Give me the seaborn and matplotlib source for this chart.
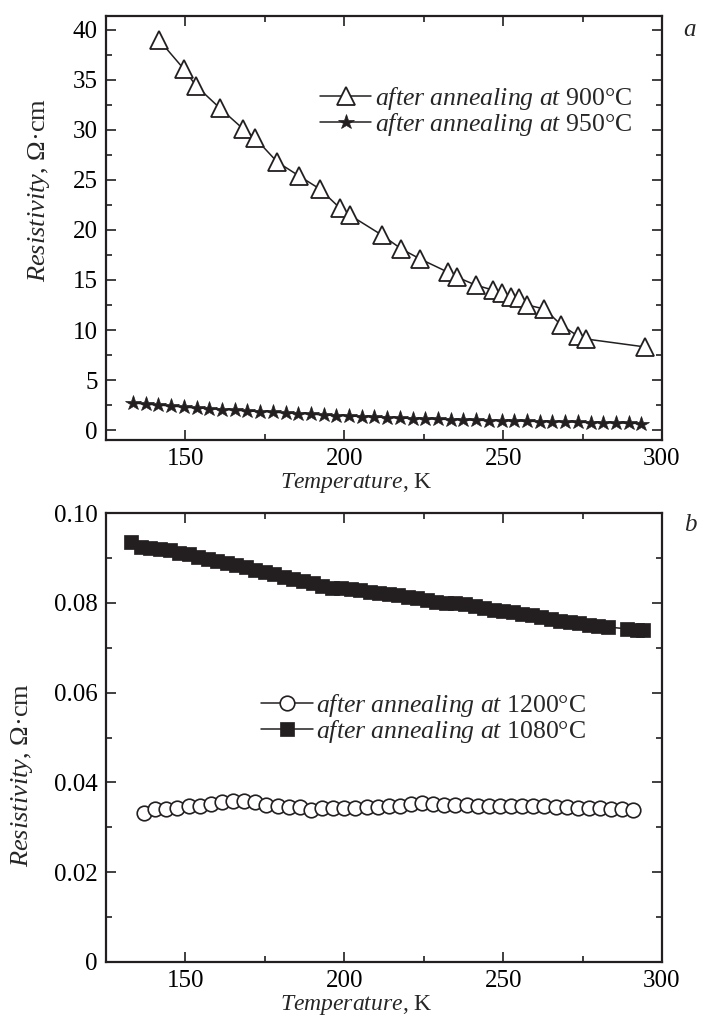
import matplotlib
matplotlib.use("Agg")
import matplotlib.pyplot as plt
from matplotlib.ticker import MultipleLocator, FixedLocator, FixedFormatter
import seaborn as sns
import pandas as pd

# ---------------- data ----------------
t_900 = [141.7, 149.5, 153.4, 160.8, 168.2, 171.9, 178.9, 185.8, 192.3, 198.6, 201.7,
         211.8, 218.0, 223.9, 232.5, 235.4, 241.3, 246.7, 249.5, 252.4, 255.1, 257.6,
         263.0, 268.3, 273.5, 276.1, 294.8]
r_900 = [39.0, 36.1, 34.4, 32.2, 30.1, 29.2, 26.8, 25.4, 24.1, 22.2, 21.5,
         19.5, 18.1, 17.1, 15.8, 15.3, 14.5, 14.0, 13.7, 13.3, 13.2, 12.5,
         12.1, 10.5, 9.4, 9.1, 8.3]

t_950 = [133.5, 137.5, 141.5, 145.5, 149.5, 153.5, 157.5, 161.5, 165.5, 169.5, 173.5,
         177.5, 181.5, 185.5, 189.5, 193.5, 197.5, 201.5, 205.5, 209.5, 213.5, 217.5,
         221.5, 225.5, 229.5, 233.5, 237.5, 241.5, 245.5, 249.5, 253.5, 257.5, 261.5,
         265.5, 269.5, 273.5, 277.5, 281.5, 285.5, 289.5, 293.5]
r_950 = [2.7, 2.6, 2.5, 2.4, 2.3, 2.2, 2.15, 2.05, 2.0, 1.9, 1.85,
         1.8, 1.7, 1.65, 1.6, 1.5, 1.45, 1.4, 1.35, 1.3, 1.25, 1.2,
         1.15, 1.1, 1.08, 1.05, 1.0, 0.98, 0.95, 0.92, 0.9, 0.88, 0.85,
         0.82, 0.8, 0.78, 0.75, 0.72, 0.7, 0.68, 0.65]

t_1080 = [133, 136, 139, 142, 145, 148, 151, 154, 157, 160, 163, 166, 169, 172, 175,
          178, 181, 184, 187, 190, 193, 196, 199, 202, 205, 208, 211, 214, 217, 220,
          223, 226, 229, 232, 235, 238, 241, 244, 247, 250, 253, 256, 259, 262, 265,
          268, 271, 274, 277, 280, 283, 289, 292, 294]
r_1080 = [0.0935, 0.0925, 0.0921, 0.0919, 0.0917, 0.0912, 0.0908, 0.0903, 0.0898, 0.0893,
          0.0889, 0.0884, 0.0879, 0.0874, 0.0869, 0.0864, 0.0858, 0.0853, 0.0848, 0.0843,
          0.0838, 0.0834, 0.0832, 0.0830, 0.0828, 0.0825, 0.0822, 0.0820, 0.0817, 0.0813,
          0.0810, 0.0806, 0.0802, 0.0800, 0.0799, 0.0797, 0.0792, 0.0788, 0.0784, 0.0781,
          0.0779, 0.0776, 0.0772, 0.0768, 0.0764, 0.0760, 0.0757, 0.0754, 0.0751, 0.0748,
          0.0746, 0.0742, 0.0740, 0.0739]

t_1200 = [137.0, 140.5, 144.0, 147.5, 151.0, 154.5, 158.0, 161.5, 165.0, 168.5, 172.0,
          175.5, 179.0, 182.5, 186.0, 189.5, 193.0, 196.5, 200.0, 203.5, 207.0, 210.5,
          214.0, 217.5, 221.0, 224.5, 228.0, 231.5, 235.0, 238.5, 242.0, 245.5, 249.0,
          252.5, 256.0, 259.5, 263.0, 266.5, 270.0, 273.5, 277.0, 280.5, 284.0, 287.5, 291.0]
r_1200 = [0.0332, 0.0340, 0.0341, 0.0343, 0.0348, 0.0347, 0.0352, 0.0357, 0.0358, 0.0358,
          0.0356, 0.0349, 0.0347, 0.0346, 0.0346, 0.0339, 0.0342, 0.0342, 0.0343, 0.0344,
          0.0345, 0.0346, 0.0347, 0.0348, 0.0352, 0.0354, 0.0352, 0.0350, 0.0349, 0.0349,
          0.0348, 0.0348, 0.0347, 0.0348, 0.0348, 0.0347, 0.0347, 0.0346, 0.0345, 0.0344,
          0.0343, 0.0343, 0.0341, 0.0340, 0.0339]

x_ticks = [150, 200, 250, 300]
y_ticks_a = [0, 5, 10, 15, 20, 25, 30, 35, 40]
y_ticks_b = [0, 0.02, 0.04, 0.06, 0.08, 0.10]
y_labels_b = ["0", "0.02", "0.04", "0.06", "0.08", "0.10"]

lab_900 = r"$\it{after\ annealing\ at}$ 900°C"
lab_950 = r"$\it{after\ annealing\ at}$ 950°C"
lab_1200 = r"$\it{after\ annealing\ at}$ 1200°C"
lab_1080 = r"$\it{after\ annealing\ at}$ 1080°C"

# ---------------- style ----------------
sns.set_theme(style="ticks")
plt.rcParams.update({
    "font.family": ["Liberation Serif", "DejaVu Serif"],
    "mathtext.fontset": "custom",
    "mathtext.rm": "Liberation Serif",
    "mathtext.it": "Liberation Serif:italic",
    "axes.linewidth": 1.6,
    "axes.edgecolor": "#231f20",
})
INK = "#231f20"

fig = plt.figure(figsize=(7.11, 10.23), dpi=100)
L, R = 106 / 711, 662 / 711
ax1 = fig.add_axes([L, 1 - 440 / 1023, R - L, (440 - 16) / 1023])
ax2 = fig.add_axes([L, 1 - 962 / 1023, R - L, (962 - 513) / 1023])

df900 = pd.DataFrame({"T": t_900, "R": r_900})
df950 = pd.DataFrame({"T": t_950, "R": r_950})
df1080 = pd.DataFrame({"T": t_1080, "R": r_1080})
df1200 = pd.DataFrame({"T": t_1200, "R": r_1200})

sns.lineplot(data=df900, x="T", y="R", ax=ax1, color=INK, lw=1.1, marker="^",
             markersize=12.5, markerfacecolor="white", markeredgecolor=INK,
             markeredgewidth=1.3, label=lab_900)
sns.lineplot(data=df950, x="T", y="R", ax=ax1, color=INK, lw=1.1, marker="*",
             markersize=11.5, markerfacecolor=INK, markeredgecolor=INK,
             markeredgewidth=0.5, label=lab_950)

sns.lineplot(data=df1200, x="T", y="R", ax=ax2, color=INK, lw=1.1, marker="o",
             markersize=10.5, markerfacecolor="white", markeredgecolor=INK,
             markeredgewidth=1.2, label=lab_1200)
sns.lineplot(data=df1080, x="T", y="R", ax=ax2, color=INK, lw=1.1, marker="s",
             markersize=9.5, markerfacecolor=INK, markeredgecolor=INK,
             markeredgewidth=0.5, label=lab_1080)

for ax in (ax1, ax2):
    ax.set_xlim(125, 300)
    ax.xaxis.set_major_locator(FixedLocator(x_ticks))
    ax.xaxis.set_minor_locator(MultipleLocator(25))
    ax.tick_params(which="both", direction="in", top=True, right=True,
                   colors=INK, labelcolor="black", labelsize=18, pad=6)
    ax.tick_params(which="major", length=7, width=1.2)
    ax.tick_params(which="minor", length=4, width=1.2)
    for s in ax.spines.values():
        s.set_visible(True)
        s.set_linewidth(1.6)
    ax.set_xlabel(r"$\it{Temperature}$, K", fontsize=17, labelpad=0)

ax1.xaxis.set_label_coords(0.45, -0.072)
ax2.xaxis.set_label_coords(0.45, -0.069)

ax1.set_ylabel(r"$\it{Resistivity}$, Ω·cm", fontsize=19, labelpad=6)
ax1.yaxis.set_label_coords(-0.098, 0.59)
ax2.set_ylabel(r"$\it{Resistivity}$, Ω·cm", fontsize=19, labelpad=6)
ax2.yaxis.set_label_coords(-0.128, 0.416)

ax1.set_ylim(-1, 41.4)
ax1.yaxis.set_major_locator(FixedLocator(y_ticks_a))
ax1.yaxis.set_minor_locator(MultipleLocator(2.5))

ax2.set_ylim(0, 0.1)
ax2.yaxis.set_major_locator(FixedLocator(y_ticks_b))
ax2.yaxis.set_major_formatter(FixedFormatter(y_labels_b))
ax2.yaxis.set_minor_locator(MultipleLocator(0.01))

leg_kw = dict(loc="upper left", frameon=False, fontsize=18.5, handlelength=2.0,
              handletextpad=0.15, labelspacing=-0.05, borderpad=0, borderaxespad=0)
ax1.legend(bbox_to_anchor=(0.385, 0.837), **leg_kw)
ax2.legend(bbox_to_anchor=(0.279, 0.601), **leg_kw)

fig.text(690 / 711, 1 - 30 / 1023, "a", fontsize=18, style="italic",
         ha="center", va="center")
fig.text(690 / 711, 1 - 525 / 1023, "b", fontsize=18, style="italic",
         ha="center", va="center")

fig.savefig("out.png", dpi=100)
